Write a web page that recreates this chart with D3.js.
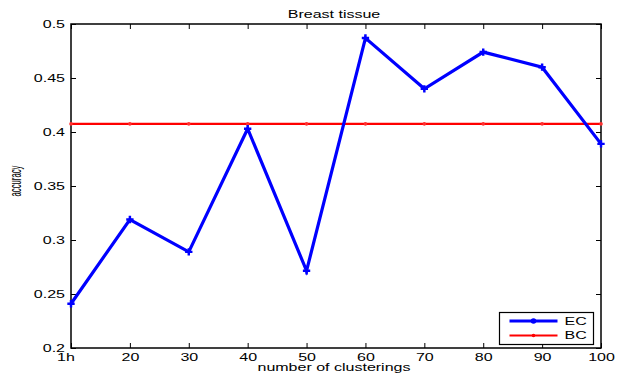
<!DOCTYPE html>
<html>
<head>
<meta charset="utf-8">
<script src="https://cdn.jsdelivr.net/npm/d3@7"></script>
<style>
  body { margin: 0; background: #fff; }
  svg { display: block; font-family: "Liberation Sans", Arial, sans-serif; }
</style>
</head>
<body>
<svg id="chart" width="626" height="378"></svg>
<script>
// data
var categories = ["1h", "20", "30", "40", "50", "60", "70", "80", "90", "100"];
var ecValues = [0.241, 0.319, 0.289, 0.403, 0.2715, 0.487, 0.440, 0.474, 0.460, 0.389];
var bcValues = [0.4075, 0.4075, 0.4075, 0.4075, 0.4075, 0.4075, 0.4075, 0.4075, 0.4075, 0.4075];
var yTicks = [0.2, 0.25, 0.3, 0.35, 0.4, 0.45, 0.5];

var W = 626, H = 378,
  m = {left: 71, right: 25, top: 24, bottom: 30},
  w = W - m.left - m.right,
  h = H - m.top - m.bottom,
  fontSize = "10px",
  // the source export has wide, stretched glyphs
  stretchBy = 1.6;

var svg = d3.select("#chart");

var x = d3.scalePoint().domain(categories).range([0, w]),
  y = d3.scaleLinear().domain([0.2, 0.5]).range([h, 0]);

var g = svg.append("g").attr("transform", "translate(" + m.left + "," + m.top + ")");

// widen text by a factor, keeps anchor
var stretch = function(sel, k){
  sel.each(function(){
    var len = this.getComputedTextLength();
    d3.select(this)
      .attr("textLength", len * (k || stretchBy))
      .attr("lengthAdjust", "spacingAndGlyphs");
  });
};

// axes, ticks pointing inward like matlab
var styleAxis = function(sel){
  sel.select(".domain").remove();
  sel.selectAll("line").attr("stroke", "#000");
  sel.selectAll("text").attr("fill", "#000").style("font-size", fontSize).call(stretch);
};

var xAxis = g.append("g")
  .attr("transform", "translate(0," + h + ")")
  .call(d3.axisBottom(x).tickSize(-5).tickPadding(6))
  .call(styleAxis);

// first label sits a bit left of its tick in the original
xAxis.selectAll("text").filter(function(d){ return d === "1h"; }).attr("dx", -5.5);

g.append("g")
  .call(d3.axisTop(x).tickSize(-5).tickFormat(""))
  .call(styleAxis);

g.append("g")
  .call(d3.axisLeft(y).tickValues(yTicks).tickSize(-5).tickPadding(6)
    .tickFormat(function(d){ return "" + (+d.toFixed(2)); }))
  .call(styleAxis);

g.append("g")
  .attr("transform", "translate(" + w + ",0)")
  .call(d3.axisRight(y).tickValues(yTicks).tickSize(-5).tickFormat(""))
  .call(styleAxis);

g.append("rect")
  .attr("width", w).attr("height", h)
  .attr("fill", "none").attr("stroke", "#000").attr("stroke-width", 1.5);

var line = d3.line()
  .x(function(d, i){ return x(categories[i]); })
  .y(function(d){ return y(d); });

// BC
g.append("path").datum(bcValues)
  .attr("d", line).attr("fill", "none")
  .attr("stroke", "#ff0000").attr("stroke-width", 2.2);

g.selectAll("circle.bc").data(bcValues).enter().append("circle")
  .attr("class", "bc")
  .attr("cx", function(d, i){ return x(categories[i]); })
  .attr("cy", y).attr("r", 1.8).attr("fill", "#ff3030");

// EC
g.append("path").datum(ecValues)
  .attr("d", line).attr("fill", "none")
  .attr("stroke", "#0000ff").attr("stroke-width", 3.2)
  .attr("stroke-linejoin", "miter");

var star = d3.symbol().type(d3.symbolCross).size(30);
g.selectAll("path.ec").data(ecValues).enter().append("path")
  .attr("class", "ec")
  .attr("d", star)
  .attr("transform", function(d, i){ return "translate(" + x(categories[i]) + "," + y(d) + ")"; })
  .attr("fill", "#0000ff");

// labels
svg.append("text")
  .attr("x", 334).attr("y", 17.5)
  .attr("text-anchor", "middle").style("font-size", fontSize)
  .text("Breast tissue")
  .call(stretch);

svg.append("text")
  .attr("x", 334).attr("y", 371)
  .attr("text-anchor", "middle").style("font-size", fontSize)
  .text("number of clusterings")
  .call(stretch);

// rotated label: glyphs get wide in x like the rest
svg.append("text")
  .attr("transform", "translate(21,181) scale(" + stretchBy + ",1) rotate(-90)")
  .attr("text-anchor", "middle").style("font-size", fontSize)
  .attr("textLength", 31).attr("lengthAdjust", "spacingAndGlyphs")
  .text("accuracy");

// legend
var lg = svg.append("g").attr("transform", "translate(499.5,312.5)");
lg.append("rect").attr("width", 94).attr("height", 32)
  .attr("fill", "#fff").attr("stroke", "#000").attr("stroke-width", 1.2);

var legendItems = [
  {label: "EC", color: "#0000ff", width: 3, r: 2.8, y: 8.5},
  {label: "BC", color: "#ff0000", width: 2.2, r: 1.8, y: 23}
];
var item = lg.selectAll("g.item").data(legendItems).enter().append("g")
  .attr("class", "item")
  .attr("transform", function(d){ return "translate(0," + d.y + ")"; });
item.append("line").attr("x1", 10).attr("x2", 58)
  .attr("stroke", function(d){ return d.color; })
  .attr("stroke-width", function(d){ return d.width; });
item.append("circle").attr("cx", 34).attr("r", function(d){ return d.r; })
  .attr("fill", function(d){ return d.color; });
item.append("text").attr("x", 65).attr("dy", "0.36em")
  .style("font-size", fontSize).text(function(d){ return d.label; })
  .call(stretch);
</script>
</body>
</html>
